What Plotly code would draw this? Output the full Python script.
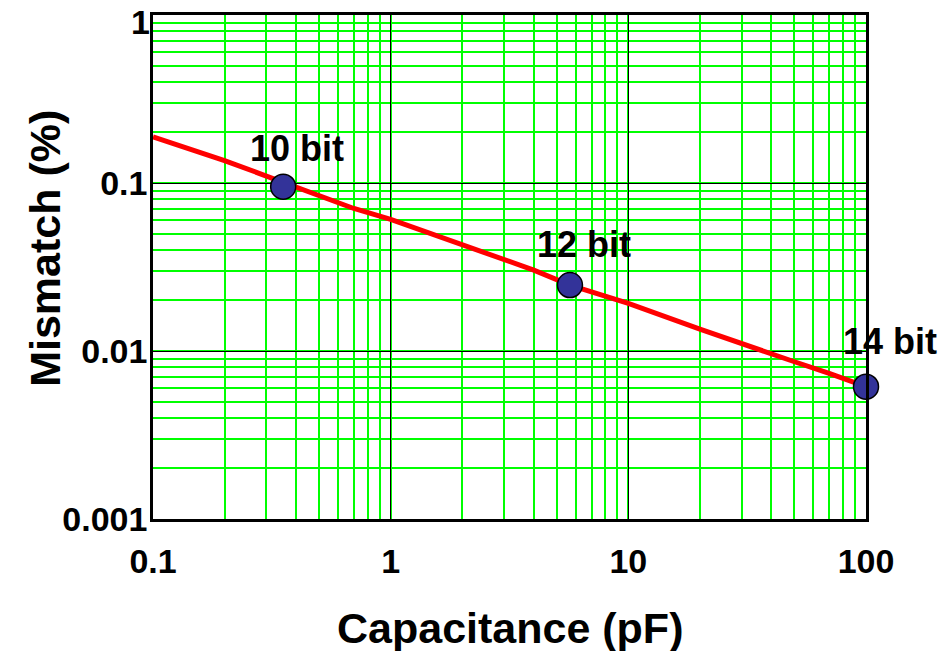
import math
import plotly.graph_objects as go

# Curve data
capacitance = [0.1, 0.2, 0.3, 0.5, 0.7, 1, 2, 3, 4, 5.68, 10, 20, 30, 50, 70, 100]
mismatch = [0.188, 0.136, 0.110, 0.0837, 0.0705, 0.0608, 0.0432, 0.0350, 0.0303,
            0.0247, 0.0192, 0.0135, 0.0110, 0.00863, 0.00736, 0.00613]

# Highlighted resolution points
point_cap = [0.353, 5.68, 100]
point_mis = [0.095, 0.0247, 0.00613]
point_labels = ["10 bit", "12 bit", "14 bit"]

x_tickvals = [0.1, 1, 10, 100]
x_ticktext = ["0.1", "1", "10", "100"]
y_tickvals = [0.001, 0.01, 0.1, 1]
y_ticktext = ["0.001", "0.01", "0.1", "1"]

FONT = "Liberation Sans, Arial, sans-serif"

fig = go.Figure()
fig.add_trace(go.Scatter(
    x=capacitance, y=mismatch, mode="lines",
    line=dict(color="#ff0000", width=5),
    hoverinfo="skip", showlegend=False, cliponaxis=False,
))
fig.add_trace(go.Scatter(
    x=point_cap, y=point_mis, mode="markers",
    marker=dict(size=25, color="#333399", line=dict(color="black", width=1.5)),
    showlegend=False, cliponaxis=False,
))

shifts = [(14, 38), (14, 41), (24, 45)]
for (xv, yv, lab), (dx, dy) in zip(zip(point_cap, point_mis, point_labels), shifts):
    fig.add_annotation(
        x=math.log10(xv), y=math.log10(yv), xref="x", yref="y",
        text=f"<b>{lab}</b>", showarrow=False,
        xanchor="center", yanchor="middle", xshift=dx, yshift=dy,
        font=dict(family=FONT, size=36, color="black"),
    )

# axis titles
fig.add_annotation(
    x=0.5, y=-0.216, xref="paper", yref="paper", text="<b>Capacitance (pF)</b>",
    showarrow=False, xanchor="center", yanchor="middle",
    font=dict(family=FONT, size=43, color="black"),
)
fig.add_annotation(
    x=-0.1515, y=0.538, xref="paper", yref="paper", text="<b>Mismatch (%)</b>",
    showarrow=False, xanchor="center", yanchor="middle", textangle=-90,
    font=dict(family=FONT, size=43, color="black"),
)

# the top y tick label sits slightly below its gridline (it would be cut by the edge)
fig.add_annotation(
    x=0, y=math.log10(y_tickvals[-1]), xref="paper", yref="y",
    text=f"<b>{y_ticktext[-1]}</b>", showarrow=False,
    xanchor="right", yanchor="middle", xshift=-1, yshift=-7,
    font=dict(family=FONT, size=34, color="black"),
)
y_ticklabels = [f"<b>{t}</b>" for t in y_ticktext[:-1]] + [""]

axis_common = dict(
    type="log", showline=True, linecolor="black", linewidth=2.5, mirror=True,
    showgrid=True, gridcolor="black", gridwidth=1, ticks="", zeroline=False,
    automargin=False, ticklabeloverflow="allow",
    tickfont=dict(family=FONT, size=34, color="black"),
    minor=dict(dtick="D1", showgrid=True, gridcolor="#00ff00", gridwidth=1.5, ticks=""),
)

fig.update_xaxes(
    range=[-1, 2], tickvals=x_tickvals,
    ticktext=[f"<b>{t}</b>" for t in x_ticktext], ticklabelstandoff=10,
    **axis_common,
)
fig.update_yaxes(
    range=[-3, 0], tickvals=y_tickvals,
    ticktext=y_ticklabels, ticklabelstandoff=-4,
    **axis_common,
)

fig.update_layout(
    width=950, height=651,
    margin=dict(l=153, r=84, t=15, b=132),
    plot_bgcolor="white", paper_bgcolor="white",
    font=dict(family=FONT, color="black"),
)

fig.write_html(
    "out.html",
    config={"displayModeBar": False},
    post_script="document.body.style.margin='0';document.body.style.overflow='hidden';",
)
